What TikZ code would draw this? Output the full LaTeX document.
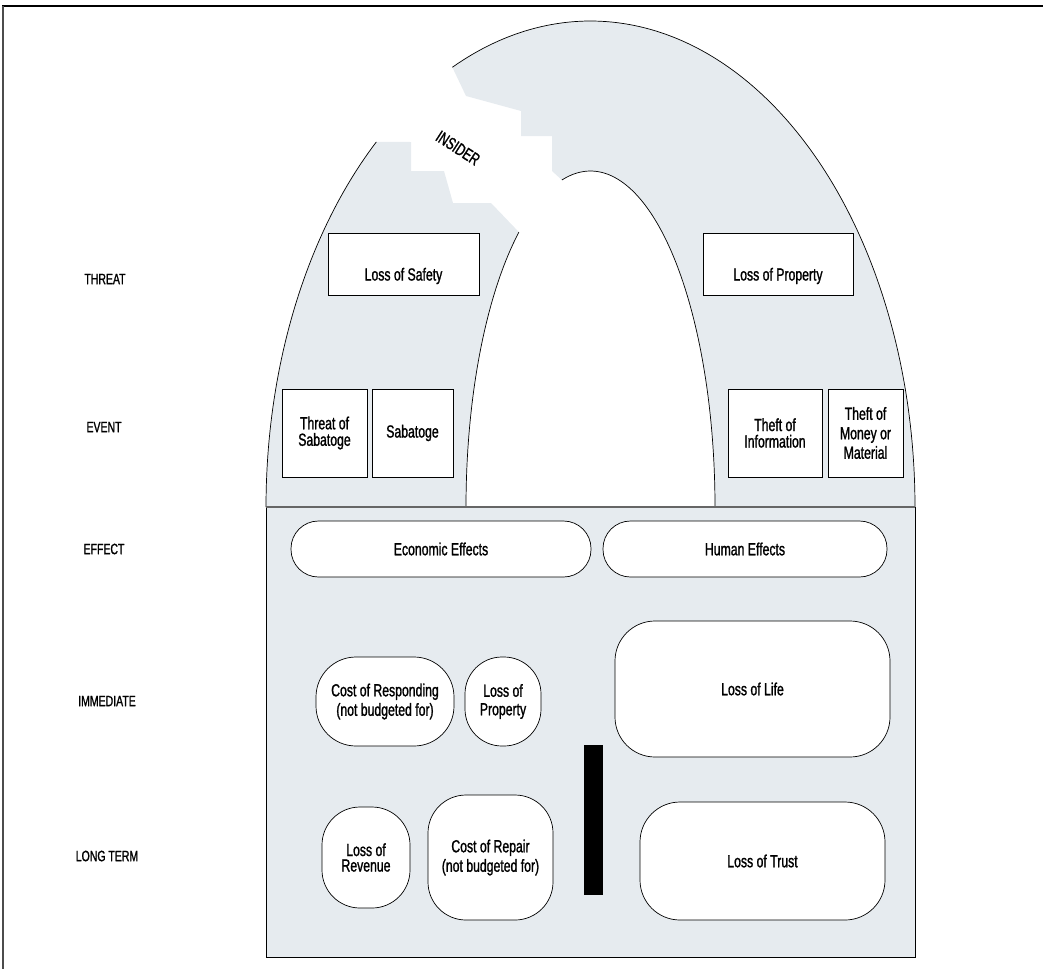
\documentclass[tikz,border=0pt]{standalone}
\usepackage{fontspec}
\setmainfont{Liberation Sans}[FakeStretch=0.70, FakeBold=1.2]
\definecolor{lockgray}{HTML}{E6EBEF}
\begin{document}
\begin{tikzpicture}[x=1pt,y=-1pt,
  box/.style={draw=black, line width=0.7pt, fill=white, align=center, inner sep=2pt,
              font=\fontsize{17.5}{19.5}\selectfont},
  rbox/.style={box, rounded corners=#1},
  lbl/.style={font=\fontsize{15}{17}\selectfont},
  arc line/.style={draw=black, line width=0.7pt},
  frame line/.style={line width=2pt}
]
\useasboundingbox (0,0) rectangle (1043,969);

% outer frame (top and left only)
\draw[frame line, black] (2,6) -- (1043,6);
\draw[frame line, black!70] (3,6) -- (3,969);

% left pillar of the shackle
\fill[lockgray] (266,507)
  -- plot[domain=180:131.3, samples=50, variable=\t] ({590.5+324.5*cos(\t)},{507-486*sin(\t)})
  -- (411,142) -- (411,171) -- (444,171) -- (453,203) -- (491,203)
  -- plot[domain=125.1:180, samples=50, variable=\t] ({590.5+124.5*cos(\t)},{507-336*sin(\t)})
  -- cycle;
% upper fragment and right pillar
\fill[lockgray]
  plot[domain=115.2:0, samples=120, variable=\t] ({590.5+324.5*cos(\t)},{507-486*sin(\t)})
  -- (715,507)
  -- plot[domain=0:103.3, samples=80, variable=\t] ({590.5+124.5*cos(\t)},{507-336*sin(\t)})
  -- (552,171) -- (552,136) -- (521,136) -- (521,111) -- (466,96) -- cycle;

% shackle outlines
\draw[arc line] plot[domain=180:131.3, samples=50, variable=\t] ({590.5+324.5*cos(\t)},{507-486*sin(\t)});
\draw[arc line] plot[domain=115.2:0, samples=120, variable=\t] ({590.5+324.5*cos(\t)},{507-486*sin(\t)});
\draw[arc line] plot[domain=125.1:180, samples=50, variable=\t] ({590.5+124.5*cos(\t)},{507-336*sin(\t)});
\draw[arc line] plot[domain=0:103.3, samples=80, variable=\t] ({590.5+124.5*cos(\t)},{507-336*sin(\t)});

% lock body
\draw[fill=lockgray, line width=0.9pt] (266,507) rectangle (915,957);
\draw[line width=1.2pt, black!60] (266,507) -- (915,507);

% INSIDER crack label
\node[rotate=-33, font=\fontsize{17}{19}\selectfont] (insider) at (458,148) {INSIDER};

% row labels
\node[lbl] (threat) at (105,279) {THREAT};
\node[lbl] (event) at (104,427) {EVENT};
\node[lbl] (effect) at (104,549) {EFFECT};
\node[lbl] (immediate) at (107,701) {IMMEDIATE};
\node[lbl] (longterm) at (107,856) {LONG TERM};

% threat row
\node[box, minimum width=151pt, minimum height=62pt, text height=37pt, text depth=4pt] (safety) at (403.5,264) {Loss of Safety};
\node[box, minimum width=150pt, minimum height=62pt, text height=37pt, text depth=4pt] (propT) at (778,264) {Loss of Property};

% event row
\node[box, minimum width=85pt, minimum height=88pt] (threatsab) at (324.5,433) {Threat of\\[-3pt]Sabatoge};
\node[box, minimum width=81pt, minimum height=88pt] (sab) at (412.5,433) {Sabatoge};
\node[box, minimum width=94pt, minimum height=88pt] (theftinfo) at (775,433) {Theft of\\[-3pt]Information};
\node[box, minimum width=75pt, minimum height=88pt] (theftmoney) at (865.5,433) {Theft of\\Money or\\Material};

% effect row
\node[rbox=27.5pt, minimum width=300pt, minimum height=56pt] (econ) at (441,549) {Economic Effects};
\node[rbox=27.5pt, minimum width=284pt, minimum height=56pt] (human) at (745,549) {Human Effects};

% immediate row
\node[rbox=40pt, minimum width=138pt, minimum height=89pt] (respond) at (385,701.5) {Cost of Responding\\(not budgeted for)};
\node[rbox=37pt, minimum width=76pt, minimum height=89pt] (propI) at (503,701.5) {Loss of\\[-1pt]Property};
\node[rbox=40pt, minimum width=275pt, minimum height=136pt] (life) at (752.5,689) {Loss of Life};

% long term row
\node[rbox=38pt, minimum width=88pt, minimum height=101pt] (revenue) at (366,857.5) {Loss of\\[-4pt]Revenue};
\node[rbox=38pt, minimum width=125pt, minimum height=125pt] (repair) at (490.5,857.5) {Cost of Repair\\(not budgeted for)};
\node[rbox=40pt, minimum width=245pt, minimum height=118pt] (trust) at (762.5,861) {Loss of Trust};

% keyhole bar
\node[fill=black, inner sep=0pt, minimum width=19pt, minimum height=150pt] (bar) at (593.5,820) {};
\end{tikzpicture}
\end{document}
